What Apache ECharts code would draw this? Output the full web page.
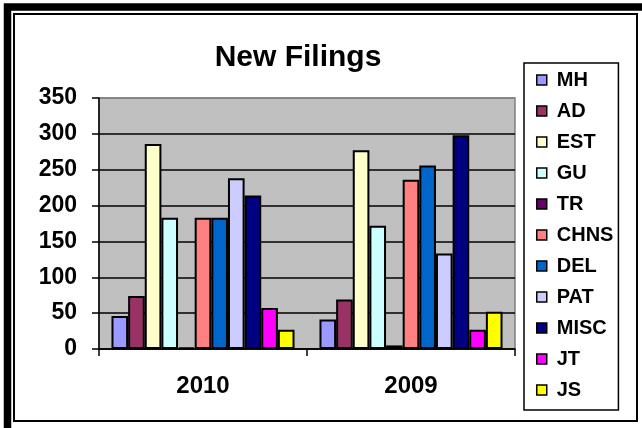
<!DOCTYPE html>
<html>
<head>
<meta charset="utf-8">
<script src="https://cdn.jsdelivr.net/npm/echarts@6/dist/echarts.min.js"></script>
<style>
  html, body { margin: 0; padding: 0; background: #fff; }
  #chart { width: 642px; height: 428px; }
</style>
</head>
<body>
<div id="chart"></div>
<script>
// Filing categories (one series each) and the two years on the x axis
const years = ['2010', '2009'];
const seriesNames = ['MH', 'AD', 'EST', 'GU', 'TR', 'CHNS', 'DEL', 'PAT', 'MISC', 'JT', 'JS'];
const seriesColors = ['#9999FF', '#993366', '#FFFFCC', '#CCFFFF', '#660066', '#FF8080',
                      '#0066CC', '#CCCCFF', '#000080', '#FF00FF', '#FFFF00'];

// New filings per category: [2010, 2009]
const MH   = [46, 41];
const AD   = [74, 69];
const EST  = [286, 277];
const GU   = [183, 172];
const TR   = [2, 5];
const CHNS = [183, 236];
const DEL  = [183, 256];
const PAT  = [238, 133];
const MISC = [214, 298];
const JT   = [57, 27];
const JS   = [27, 52];
const seriesValues = [MH, AD, EST, GU, TR, CHNS, DEL, PAT, MISC, JT, JS];

const yTicks = { min: 0, max: 350, interval: 50 };

const font = '"Liberation Sans", Arial, sans-serif';
const chart = echarts.init(document.getElementById('chart'), null, { renderer: 'canvas' });

chart.setOption({
  animation: false,
  backgroundColor: '#ffffff',
  title: {
    text: 'New Filings',
    left: 293,
    top: 38,
    textAlign: 'center',
    textStyle: { fontFamily: font, fontWeight: 'bold', fontSize: 30, color: '#000' }
  },
  grid: {
    left: 99, right: 127, top: 98, bottom: 79,
    show: true,
    backgroundColor: '#C0C0C0',
    borderColor: '#808080',
    borderWidth: 1.5
  },
  legend: {
    orient: 'vertical',
    left: 524,
    top: 63,
    padding: [7, 5, 10, 12],
    itemGap: 11,
    itemWidth: 10,
    itemHeight: 10,
    icon: 'rect',
    backgroundColor: '#ffffff',
    borderColor: '#000',
    borderWidth: 1.5,
    borderRadius: 0,
    itemStyle: { borderColor: '#000', borderWidth: 1.5 },
    textStyle: {
      fontFamily: font, fontWeight: 'bold', fontSize: 20, color: '#000',
      lineHeight: 20, padding: [0, 0, 0, 5]
    },
    data: seriesNames
  },
  xAxis: {
    type: 'category',
    data: years,
    axisLine: { lineStyle: { color: '#000', width: 1.5 } },
    axisTick: { show: true, length: 7, lineStyle: { color: '#000', width: 1.5 } },
    axisLabel: {
      margin: 25,
      fontFamily: font, fontWeight: 'bold', fontSize: 24, color: '#000'
    },
    splitLine: { show: false }
  },
  yAxis: {
    type: 'value',
    min: yTicks.min,
    max: yTicks.max,
    interval: yTicks.interval,
    axisLine: { show: true, lineStyle: { color: '#000', width: 1.5 } },
    axisTick: { show: true, length: 7, lineStyle: { color: '#000', width: 1.5 } },
    axisLabel: {
      margin: 22,
      fontFamily: font, fontWeight: 'bold', fontSize: 23, color: '#000'
    },
    splitLine: {
      show: true,
      lineStyle: {
        color: ['#000', '#000', '#000', '#000', '#000', '#000', '#000', '#808080'],
        width: 1.5
      }
    }
  },
  series: seriesNames.map((name, i) => ({
    name: name,
    type: 'bar',
    data: seriesValues[i],
    barGap: '0%',
    barCategoryGap: '12%',
    itemStyle: {
      color: seriesColors[i],
      borderColor: '#000',
      borderWidth: 2
    }
  })),
  graphic: [
    {
      type: 'rect',
      silent: true,
      shape: { x: 7.5, y: 7, width: 700, height: 500 },
      style: { fill: 'none', stroke: '#000', lineWidth: 7.5 }
    },
    {
      type: 'rect',
      silent: true,
      shape: { x: 14, y: 14, width: 623, height: 407 },
      style: { fill: 'none', stroke: '#000', lineWidth: 2 }
    }
  ]
});
</script>
</body>
</html>
